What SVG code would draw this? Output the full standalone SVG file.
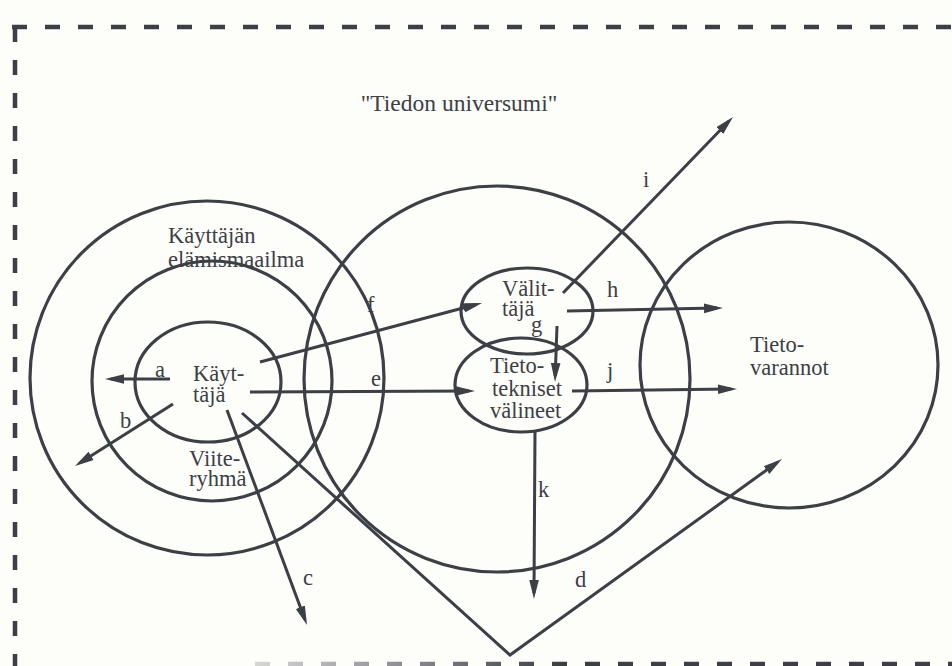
<svg xmlns="http://www.w3.org/2000/svg" width="952" height="666" viewBox="0 0 952 666">
<style>
.c{fill:none;stroke:#3c3f45;stroke-width:3.2}
.l{fill:none;stroke:#3c3f45;stroke-width:3;marker-end:url(#ah)}
.b{fill:none;stroke:#3c3f45;stroke-width:4.5;stroke-dasharray:15 18}
text{font-family:"Liberation Serif","Times New Roman",serif;font-size:22.5px;fill:#3c3f45}
.t{font-size:23.5px}
</style>
<defs>
<marker id="ah" markerUnits="userSpaceOnUse" markerWidth="22" markerHeight="12" viewBox="0 -6 22 12" refX="13" refY="0" orient="auto">
<path d="M0,-4.8 L19,0 L0,4.8 Z" fill="#3c3f45"/>
</marker>
<linearGradient id="fade" gradientUnits="userSpaceOnUse" x1="255" y1="0" x2="560" y2="0">
<stop offset="0" stop-color="#3c3f45" stop-opacity="0.2"/>
<stop offset="1" stop-color="#3c3f45" stop-opacity="1"/>
</linearGradient>
</defs>
<rect width="952" height="666" fill="#fdfdfa"/>
<g id="frame">
<line class="b" x1="12" y1="27" x2="952" y2="27"/>
<line class="b" x1="15" y1="27" x2="15" y2="666"/>
<line x1="255" y1="664" x2="952" y2="664" stroke="url(#fade)" stroke-width="4.5" stroke-dasharray="15 18"/>
</g>
<text class="t" x="459" y="111" text-anchor="middle">"Tiedon universumi"</text>
<g id="elamismaailma">
<circle class="c" cx="207" cy="378" r="177"/>
<text x="168" y="243">Käyttäjän</text>
<text x="168" y="267">elämismaailma</text>
</g>
<g id="viiteryhma">
<circle class="c" cx="212" cy="381" r="120"/>
<text x="189" y="466">Viite-</text>
<text x="189" y="486">ryhmä</text>
</g>
<g id="kayttaja">
<ellipse class="c" cx="208" cy="382" rx="73" ry="60"/>
<text x="193" y="381">Käyt-</text>
<text x="193" y="402">täjä</text>
</g>
<g id="universumi-keski">
<circle class="c" cx="497" cy="379" r="193"/>
</g>
<g id="tietovarannot">
<ellipse class="c" cx="789" cy="365" rx="149" ry="143"/>
<text x="750" y="352">Tieto-</text>
<text x="750" y="375">varannot</text>
</g>
<g id="valittaja">
<ellipse class="c" cx="527" cy="311" rx="66" ry="43"/>
<text x="502" y="296">Välit-</text>
<text x="502" y="316">täjä</text>
</g>
<g id="tietotekniset">
<ellipse class="c" cx="521" cy="385" rx="66" ry="47"/>
<text x="490" y="373">Tieto-</text>
<text x="492" y="396">tekniset</text>
<text x="490" y="418">välineet</text>
</g>
<g id="connectors">
<path class="l" d="M170,379 L111,379"/>
<path class="l" d="M173,404 L80.1,462.8"/>
<path class="l" d="M227,410 L304.9,619.4"/>
<path class="l" d="M242,413 L510,655 L777.1,462.5"/>
<path class="l" d="M250,392 L469,391"/>
<path class="l" d="M260,362 L476.2,304.5"/>
<path class="l" d="M557,326 L555.2,376"/>
<path class="l" d="M567,311 L717,308.1"/>
<path class="l" d="M563,293 L728.8,121.3"/>
<path class="l" d="M572,391 L731,389"/>
<path class="l" d="M535,430 L534,593"/>
<text x="155" y="377">a</text>
<text x="120" y="428">b</text>
<text x="303" y="585">c</text>
<text x="575" y="587">d</text>
<text x="371" y="386">e</text>
<text x="367" y="312">f</text>
<text x="531" y="332">g</text>
<text x="607" y="297">h</text>
<text x="643" y="187">i</text>
<text x="607" y="378">j</text>
<text x="538" y="497">k</text>
</g>
</svg>
